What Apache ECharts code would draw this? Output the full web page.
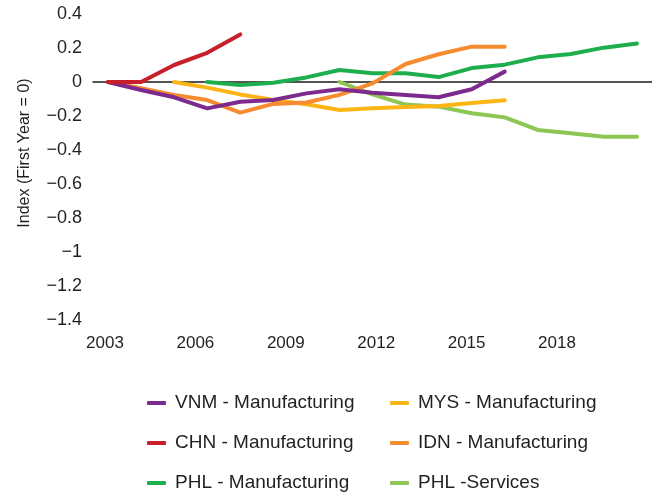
<!DOCTYPE html>
<html>
<head>
<meta charset="utf-8">
<script src="https://cdn.jsdelivr.net/npm/echarts@6/dist/echarts.min.js"></script>
<style>
  html, body { margin: 0; padding: 0; background: #fff; }
  #chart { width: 652px; height: 495px; }
</style>
</head>
<body>
<div id="chart"></div>
<script>
// years on the x axis, one value per year (null = no data)
var years = [2003, 2004, 2005, 2006, 2007, 2008, 2009, 2010, 2011, 2012, 2013, 2014, 2015, 2016, 2017, 2018, 2019];
var xTickLabels = [2003, 2006, 2009, 2012, 2015, 2018];

var vnmMfg = [0, -0.047, -0.09, -0.155, -0.116, -0.106, -0.067, -0.043, -0.063, -0.076, -0.09, -0.043, 0.061, null, null, null, null];
var chnMfg = [0, 0, 0.10, 0.172, 0.28, null, null, null, null, null, null, null, null, null, null, null, null];
var phlMfg = [null, null, null, 0, -0.018, -0.004, 0.027, 0.071, 0.051, 0.051, 0.029, 0.082, 0.102, 0.145, 0.165, 0.202, 0.227];
var mysMfg = [null, null, 0, -0.033, -0.073, -0.106, -0.131, -0.165, -0.155, -0.147, -0.141, -0.124, -0.108, null, null, null, null];
var idnMfg = [0, -0.037, -0.076, -0.106, -0.18, -0.129, -0.121, -0.076, -0.008, 0.106, 0.163, 0.208, 0.208, null, null, null, null];
var phlSrv = [null, null, null, null, null, null, null, 0, -0.073, -0.133, -0.145, -0.184, -0.208, -0.282, -0.302, -0.322, -0.322];

var FONT = '"Liberation Sans", Arial, sans-serif';
var TXT = '#231f20';

function pairs(vals) {
    var out = [];
    years.forEach(function (y, i) {
        if (vals[i] !== null) out.push([y, vals[i]]);
    });
    return out;
}

function line(name, vals, color) {
    return {
        name: name,
        type: 'line',
        xAxisIndex: 0,
        yAxisIndex: 0,
        symbol: 'none',
        silent: true,
        data: pairs(vals),
        lineStyle: { color: color, width: 4, cap: 'round', join: 'round' },
        itemStyle: { color: color }
    };
}

var legendCommon = {
    orient: 'vertical',
    icon: 'roundRect',
    padding: 0,
    height: 102,
    itemWidth: 19,
    itemHeight: 4,
    itemGap: 20,
    textStyle: { fontFamily: FONT, fontSize: 19, color: TXT, lineHeight: 20, padding: [0, 0, 0, 4] },
    selectedMode: false
};

var myChart = echarts.init(document.getElementById('chart'), null, { renderer: 'canvas' });

var option = {
    animation: false,
    backgroundColor: '#fff',
    grid: [
        { left: 93, right: 0, top: 14, bottom: 175 },
        { left: 105, right: 95, top: 14, bottom: 175 }
    ],
    xAxis: [
        {
            type: 'value', gridIndex: 0, min: 2002.546, max: 2019.454,
            axisLine: { show: true, onZero: true, lineStyle: { color: '#1a1a1a', width: 1.5 } },
            axisTick: { show: false }, axisLabel: { show: false }, splitLine: { show: false }
        },
        {
            type: 'value', gridIndex: 1, min: xTickLabels[0], max: xTickLabels[xTickLabels.length - 1], interval: 3,
            axisLine: { show: false }, axisTick: { show: false }, splitLine: { show: false },
            axisLabel: {
                margin: 15, fontFamily: FONT, fontSize: 17, color: TXT,
                formatter: function (v) { return String(v); }
            }
        }
    ],
    yAxis: [
        {
            type: 'value', gridIndex: 0, min: -1.4, max: 0.4, interval: 0.2,
            axisLine: { show: false }, axisTick: { show: false }, splitLine: { show: false },
            axisLabel: {
                margin: 11, fontFamily: FONT, fontSize: 18, color: TXT,
                formatter: function (v) {
                    var a = +Math.abs(v).toFixed(1);
                    return (v < -1e-9 ? '\u2212' : '') + String(a);
                }
            }
        },
        { type: 'value', gridIndex: 1, show: false, min: 0, max: 1 }
    ],
    graphic: [{
        type: 'text',
        x: 25, y: 153,
        rotation: Math.PI / 2,
        style: {
            text: 'Index (First Year = 0)',
            fontFamily: FONT, fontSize: 16, fill: TXT,
            align: 'center', verticalAlign: 'middle'
        }
    }],
    legend: [
        Object.assign({ left: 147, top: 393, data: ['VNM - Manufacturing', 'CHN - Manufacturing', 'PHL - Manufacturing'] }, legendCommon),
        Object.assign({ left: 390, top: 393, data: ['MYS - Manufacturing', 'IDN - Manufacturing', 'PHL -Services'] }, legendCommon)
    ],
    series: [
        line('PHL -Services', phlSrv, '#8dc652'),
        line('PHL - Manufacturing', phlMfg, '#1fae4d'),
        line('MYS - Manufacturing', mysMfg, '#fdb515'),
        line('IDN - Manufacturing', idnMfg, '#f68b2f'),
        line('VNM - Manufacturing', vnmMfg, '#7d2a8e'),
        line('CHN - Manufacturing', chnMfg, '#c8202a')
    ]
};

myChart.setOption(option);
</script>
</body>
</html>
